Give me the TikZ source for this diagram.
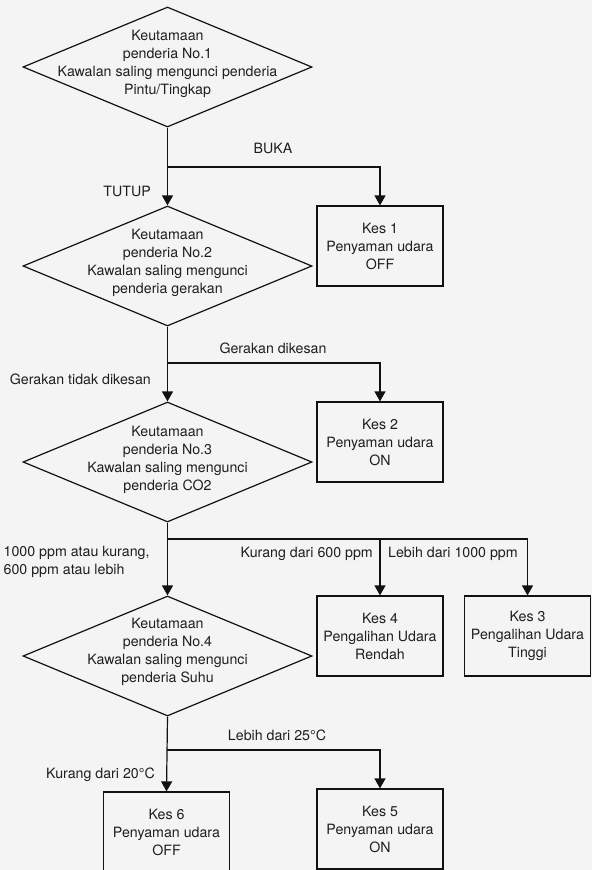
\documentclass[tikz,border=0pt]{standalone}
\usepackage{fontspec}
\setmainfont{TeX Gyre Heros}
\usetikzlibrary{shapes.geometric,arrows.meta}
\definecolor{bgc}{HTML}{F4F4F4}
\definecolor{txtc}{HTML}{1E1E1E}
\definecolor{linec}{HTML}{111111}
\tikzset{
  every node/.style={font=\fontsize{14.2}{18}\selectfont, text=txtc},
  dia/.style={draw=linec, line width=1.2pt, diamond, minimum width=289pt, minimum height=120pt, inner sep=0pt},
  diatext/.style={align=center, inner sep=0pt},
  box/.style={draw=linec, line width=1.2pt, rectangle, minimum width=126pt, minimum height=80pt, align=center, inner sep=0pt},
  lab/.style={inner sep=0pt, align=left},
  arr/.style={draw=linec, line width=1.2pt, -{Triangle[width=11pt,length=10pt]}},
  ln/.style={draw=linec, line width=1.2pt},
}
\begin{document}
\begin{tikzpicture}[x=1pt,y=-1pt]
\useasboundingbox (0,0) rectangle (592,870);
\fill[bgc] (0,0) rectangle (592,870);
\clip (0,0) rectangle (592,870);

% decisions
\node[dia] (d1) at (167.5,67) {};
\node[diatext] (t1) at ([yshift=3pt]d1.center) {Keutamaan\\penderia No.1\\Kawalan saling mengunci penderia\\Pintu/Tingkap};
\node[dia] (d2) at (167.5,266) {};
\node[diatext] (t2) at ([yshift=3pt]d2.center) {Keutamaan\\penderia No.2\\Kawalan saling mengunci\\penderia gerakan};
\node[dia] (d3) at (167.5,462) {};
\node[diatext] (t3) at ([yshift=2pt]d3.center) {Keutamaan\\penderia No.3\\Kawalan saling mengunci\\penderia CO2};
\node[dia] (d4) at (167.5,656) {};
\node[diatext] (t4) at ([yshift=4pt]d4.center) {Keutamaan\\penderia No.4\\Kawalan saling mengunci\\penderia Suhu};

% cases
\node[box] (k1) at (380,246) {Kes 1\\Penyaman udara\\OFF};
\node[box] (k2) at (380,442) {Kes 2\\Penyaman udara\\ON};
\node[box] (k4) at (380,636) {Kes 4\\Pengalihan Udara\\Rendah};
\node[box] (k3) at (527.5,636) {Kes 3\\Pengalihan Udara\\Tinggi};
\node[box] (k5) at (380,829) {Kes 5\\Penyaman udara\\ON};
\node[box] (k6) at (166.5,832) {Kes 6\\Penyaman udara\\OFF};

% branch points
\coordinate (b1) at (167,167);
\coordinate (b2) at (167,363);
\coordinate (b3) at (167,539);
\coordinate (b4) at (167,750);

% connectors
\draw[arr] (d1.south) -- (d2.north);
\draw[arr] (b1) -| (k1.north);
\draw[arr] (d2.south) -- (d3.north);
\draw[arr] (b2) -| (k2.north);
\draw[arr] (d3.south) -- (d4.north);
\draw[arr] (b3) -| (k4.north);
\draw[arr] (b3) -| (k3.north);
\draw[arr] (d4.south) -- (k6.north);
\draw[arr] (b4) -| (k5.north);

% labels
\node[lab] (l1) at (273,148) {BUKA};
\node[lab, anchor=east] (l2) at (151,191) {TUTUP};
\node[lab] (l3) at (273,348) {Gerakan dikesan};
\node[lab, anchor=east] (l4) at (151,379) {Gerakan tidak dikesan};
\node[lab, anchor=west] (l5) at (3.5,562) {1000 ppm atau kurang,\\600 ppm atau lebih};
\node[lab, anchor=east] (l6) at (373,554) {Kurang dari 600 ppm};
\node[lab, anchor=west] (l7) at (388,554) {Lebih dari 1000 ppm};
\node[lab] (l8) at (277,735) {Lebih dari 25°C};
\node[lab, anchor=east] (l9) at (155,775) {Kurang dari 20°C};
\end{tikzpicture}
\end{document}
